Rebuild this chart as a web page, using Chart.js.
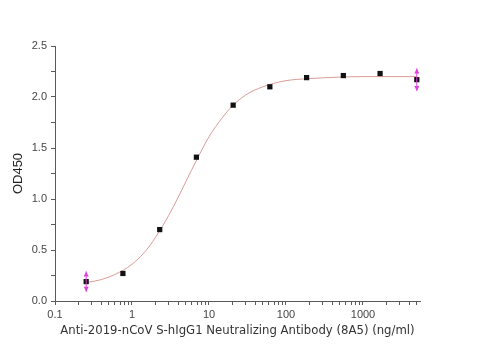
<!DOCTYPE html>
<html>
<head>
<meta charset="utf-8">
<script src="https://cdn.jsdelivr.net/npm/chart.js@4/dist/chart.umd.min.js"></script>
<style>
html,body{margin:0;padding:0;background:#fff;}
#wrap{width:480px;height:360px;position:relative;}
</style>
</head>
<body>
<div id="wrap"><canvas id="c" width="480" height="360"></canvas></div>
<script>
// Measured concentrations (ng/ml) and OD450 readings
const concentrations = [0.254, 0.762, 2.29, 6.86, 20.6, 61.7, 185.2, 555.6, 1667, 5000];
const od450 = [0.19, 0.27, 0.70, 1.41, 1.92, 2.10, 2.19, 2.21, 2.23, 2.17];
const errorHalf = [0.10, 0, 0, 0, 0, 0, 0, 0, 0, 0.11];

// Fitted curve
const curveX = [0.254, 0.4, 0.6, 1, 1.5, 2, 3, 4, 5, 7, 10, 15, 20, 30, 50, 100, 200, 500, 1000, 2000, 5000];
const curveY = [0.18, 0.21, 0.26, 0.36, 0.49, 0.62, 0.84, 1.02, 1.17, 1.39, 1.61, 1.80, 1.91, 2.02, 2.10, 2.16, 2.18, 2.195, 2.2, 2.2, 2.2];

// Axis ticks
const xMajorTicks = [0.1, 1, 10, 100, 1000];
const xMinorMultipliers = [2, 3, 4, 5, 6, 7, 8, 9];
const xMin = 0.1, xMax = 5500;
const yTicks = [0, 0.25, 0.5, 0.75, 1.0, 1.25, 1.5, 1.75, 2.0, 2.25, 2.5];
const yLabelled = [0, 0.5, 1.0, 1.5, 2.0, 2.5];

const xTitle = 'Anti-2019-nCoV S-hIgG1 Neutralizing Antibody (8A5) (ng/ml)';
const yTitle = 'OD450';

const axisColor = '#5a5a5a';
const tickFont = {family: '"Liberation Sans", Arial, sans-serif', size: 11};

const errorBarPlugin = {
  id: 'errorBars',
  afterDatasetsDraw(chart) {
    const ctx = chart.ctx;
    const xs = chart.scales.x, ys = chart.scales.y;
    ctx.save();
    ctx.strokeStyle = '#e040e0';
    ctx.fillStyle = '#e040e0';
    ctx.lineWidth = 1;
    concentrations.forEach((c, i) => {
      const e = errorHalf[i];
      if (!e) return;
      const px = xs.getPixelForValue(c);
      const top = ys.getPixelForValue(od450[i] + e);
      const bot = ys.getPixelForValue(od450[i] - e);
      ctx.beginPath();
      ctx.moveTo(px, top); ctx.lineTo(px, bot); ctx.stroke();
      ctx.beginPath();
      ctx.moveTo(px, top); ctx.lineTo(px - 2.5, top + 5); ctx.lineTo(px + 2.5, top + 5); ctx.closePath(); ctx.fill();
      ctx.beginPath();
      ctx.moveTo(px, bot); ctx.lineTo(px - 2.5, bot - 5); ctx.lineTo(px + 2.5, bot - 5); ctx.closePath(); ctx.fill();
    });
    ctx.restore();
  }
};

new Chart(document.getElementById('c'), {
  type: 'scatter',
  data: {
    datasets: [
      {
        type: 'line',
        data: curveX.map((x, i) => ({x: x, y: curveY[i]})),
        borderColor: 'rgba(210,140,135,0.85)',
        borderWidth: 1,
        pointRadius: 0,
        cubicInterpolationMode: 'monotone',
        fill: false,
        order: 2
      },
      {
        data: concentrations.map((x, i) => ({x: x, y: od450[i]})),
        pointStyle: 'rect',
        pointRadius: 3.7,
        backgroundColor: '#111',
        borderColor: '#111',
        borderWidth: 0,
        showLine: false,
        order: 1
      }
    ]
  },
  options: {
    responsive: false,
    animation: false,
    layout: {padding: {left: 0, top: 46, right: 60, bottom: 0}},
    plugins: {legend: {display: false}, tooltip: {enabled: false}},
    scales: {
      x: {
        type: 'logarithmic',
        min: xMin,
        max: xMax,
        afterBuildTicks(scale) {
          const t = [];
          xMajorTicks.forEach(m => {
            t.push({value: m, major: true});
            xMinorMultipliers.forEach(k => {
              const v = m * k;
              if (v <= xMax) t.push({value: v});
            });
          });
          scale.ticks = t;
        },
        afterFit(scale) { scale.height = 59; },
        border: {display: true, color: axisColor, width: 1},
        grid: {drawOnChartArea: false, drawTicks: true, tickLength: 4, color: axisColor},
        ticks: {
          autoSkip: false,
          maxRotation: 0,
          color: '#444',
          font: tickFont,
          padding: 3,
          callback(value) {
            return xMajorTicks.includes(value) ? String(value) : '';
          }
        },
        title: {
          display: true,
          text: xTitle,
          color: '#333',
          font: {family: '"DejaVu Sans", Verdana, sans-serif', size: 11.7},
          padding: {top: 0, bottom: 22}
        }
      },
      y: {
        type: 'linear',
        min: 0,
        max: 2.5,
        afterBuildTicks(scale) { scale.ticks = yTicks.map(v => ({value: v})); },
        afterFit(scale) { scale.width = 55; },
        border: {display: true, color: axisColor, width: 1},
        grid: {drawOnChartArea: false, drawTicks: true, tickLength: 4, color: axisColor},
        ticks: {
          color: '#444',
          font: tickFont,
          padding: 4,
          callback(value) {
            return yLabelled.some(v => Math.abs(v - value) < 1e-9) ? value.toFixed(1) : '';
          }
        },
        title: {
          display: true,
          text: yTitle,
          color: '#222',
          font: {family: '"Liberation Sans", Arial, sans-serif', size: 13},
          padding: {top: 11, bottom: 0}
        }
      }
    }
  },
  plugins: [errorBarPlugin]
});
</script>
</body>
</html>
